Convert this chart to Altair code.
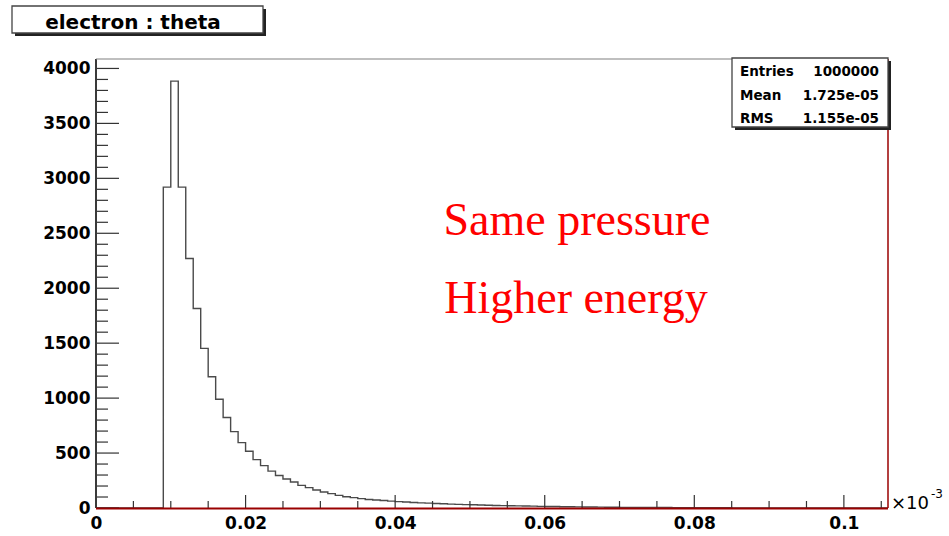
import altair as alt
import pandas as pd

# ---------------- data ----------------
bin_width = 0.001  # x in units of 1e-3
counts = [0, 0, 0, 0, 0, 0, 0, 0, 0,
          2920, 3885, 2920, 2270, 1815, 1453, 1195, 990, 823, 695,
          595, 516, 440, 386, 336, 296, 264, 237, 206, 185,
          164, 146, 131, 115, 103, 94, 85, 78, 73, 68,
          63, 58, 54, 50, 47, 44, 41, 38, 35, 33,
          31, 29, 27, 25, 23, 22, 21, 19, 18, 17,
          15, 14, 13, 12, 11, 10, 9, 9, 8, 7,
          7, 6, 6, 5, 5, 4, 4, 4, 3, 3,
          3, 2, 2, 2, 2, 2, 1, 1, 1, 1,
          1, 1, 1, 1, 0, 0, 0, 0, 0, 0,
          0, 0, 0, 0, 0, 0, 0]

x_labels = [0, 0.02, 0.04, 0.06, 0.08, 0.1]
y_labels = [0, 500, 1000, 1500, 2000, 2500, 3000, 3500, 4000]
x_ticks = [i * 0.005 for i in range(22)]
y_ticks = [i * 100 for i in range(41)]

title_text = "electron : theta"
stats_names = ["Entries", "Mean", "RMS"]
stats_values = ["1000000", "1.725e-05", "1.155e-05"]
annotation = ["Same pressure", "Higher energy"]

X_MAX = 0.1059
Y_MAX = 4086
W, H = 792, 449

edges = [i * bin_width for i in range(len(counts) + 1)]
hist_df = pd.DataFrame({"x": edges, "y": counts + [counts[-1]]})

xs = alt.Scale(domain=[0, X_MAX], nice=False, zero=False)
ys = alt.Scale(domain=[0, Y_MAX], nice=False)

one = pd.DataFrame({"d": [0]})

FONT = "DejaVu Sans"

# histogram
hist = alt.Chart(hist_df).mark_line(
    interpolate="step-after", color="#4a4a4a", strokeWidth=1.4, clip=True
).encode(
    x=alt.X("x:Q", scale=xs,
            axis=alt.Axis(values=x_labels, format="~g", title=None, grid=False,
                          ticks=False, tickSize=0, domain=False, labelFlush=False,
                          labelOverlap=False, labelFont=FONT, labelFontWeight="bold",
                          labelFontSize=17, labelColor="black", labelPadding=7)),
    y=alt.Y("y:Q", scale=ys,
            axis=alt.Axis(values=y_labels, format="d", title=None, grid=False, ticks=False,
                          tickSize=0, domain=False, labelFlush=False, labelOverlap=False,
                          labelFont=FONT, labelFontWeight="bold", labelFontSize=17,
                          labelColor="black", labelPadding=6)),
)

# inward ticks
yt_df = pd.DataFrame({"v": y_ticks, "major": [v % 500 == 0 for v in y_ticks]})
ytick_major = alt.Chart(yt_df).transform_filter("datum.major").mark_rule(
    color="#333333", strokeWidth=1.2).encode(
    y=alt.Y("v:Q", scale=ys), x=alt.value(0), x2=alt.value(23))
ytick_minor = alt.Chart(yt_df).transform_filter("!datum.major").mark_rule(
    color="#333333", strokeWidth=1.2).encode(
    y=alt.Y("v:Q", scale=ys), x=alt.value(0), x2=alt.value(12))

xt_df = pd.DataFrame({"v": x_ticks,
                      "major": [abs(round(v / 0.02) * 0.02 - v) < 1e-9 for v in x_ticks]})
xtick_major = alt.Chart(xt_df).transform_filter("datum.major").mark_rule(
    color="#333333", strokeWidth=1.2).encode(
    x=alt.X("v:Q", scale=xs), y=alt.value(H), y2=alt.value(H - 13))
xtick_minor = alt.Chart(xt_df).transform_filter("!datum.major").mark_rule(
    color="#333333", strokeWidth=1.2).encode(
    x=alt.X("v:Q", scale=xs), y=alt.value(H), y2=alt.value(H - 7))

# frame lines
left_line = alt.Chart(one).mark_rule(color="#3a3a3a", strokeWidth=2).encode(
    x=alt.value(0), y=alt.value(0), y2=alt.value(H))
top_line = alt.Chart(one).mark_rule(color="#808080", strokeWidth=1.2).encode(
    x=alt.value(0), x2=alt.value(W), y=alt.value(0))
bottom_line = alt.Chart(one).mark_rule(color="#9a0000", strokeWidth=2).encode(
    x=alt.value(0), x2=alt.value(W), y=alt.value(H + 0.5))
right_line = alt.Chart(one).mark_rule(color="#9a0000", strokeWidth=1.5).encode(
    x=alt.value(W), y=alt.value(0), y2=alt.value(H))

# title box
tb_shadow = alt.Chart(one).mark_rect(color="#222222").encode(
    x=alt.value(-81), x2=alt.value(170), y=alt.value(-50), y2=alt.value(-23))
tb = alt.Chart(one).mark_rect(fill="white", stroke="#444444", strokeWidth=1.3).encode(
    x=alt.value(-84), x2=alt.value(167), y=alt.value(-53), y2=alt.value(-26))
tb_text = alt.Chart(one).mark_text(
    text=title_text, font=FONT, fontWeight="bold", fontSize=20, color="black",
    align="center", baseline="alphabetic").encode(x=alt.value(37), y=alt.value(-30))

# stats box
sb_shadow = alt.Chart(one).mark_rect(color="#222222").encode(
    x=alt.value(639), x2=alt.value(795), y=alt.value(2), y2=alt.value(71))
sb = alt.Chart(one).mark_rect(fill="white", stroke="#444444", strokeWidth=1.3).encode(
    x=alt.value(636), x2=alt.value(792), y=alt.value(-1), y2=alt.value(68))
stat_layers = []
for i, (nm, vl) in enumerate(zip(stats_names, stats_values)):
    yy = 17 + i * 23.5
    stat_layers.append(alt.Chart(one).mark_text(
        text=nm, font=FONT, fontWeight="bold", fontSize=13.5, color="black",
        align="left", baseline="alphabetic").encode(x=alt.value(644), y=alt.value(yy)))
    stat_layers.append(alt.Chart(one).mark_text(
        text=vl, font=FONT, fontWeight="bold", fontSize=13.5, color="black",
        align="right", baseline="alphabetic").encode(x=alt.value(783), y=alt.value(yy)))

# x10^-3
mult = alt.Chart(one).mark_text(
    text="×10", font=FONT, fontSize=18, color="black", align="left",
    baseline="alphabetic").encode(x=alt.value(795), y=alt.value(450))
expo = alt.Chart(one).mark_text(
    text="-3", font=FONT, fontSize=12, color="black", align="left",
    baseline="alphabetic").encode(x=alt.value(835), y=alt.value(439))

# red annotation
ann_layers = []
for i, t in enumerate(annotation):
    ann_layers.append(alt.Chart(one).mark_text(
        text=t, font="Liberation Serif", fontSize=46, color="#ff0000",
        align="center", baseline="alphabetic").encode(x=alt.value(481 - i), y=alt.value(176 + i * 78)))

chart = alt.layer(
    hist, ytick_major, ytick_minor, xtick_major, xtick_minor,
    left_line, top_line, bottom_line, right_line,
    tb_shadow, tb, tb_text, sb_shadow, sb, *stat_layers, mult, expo, *ann_layers
).properties(
    width=W, height=H,
    autosize=alt.AutoSizeParams(type="none"),
    padding={"left": 96, "top": 59, "right": 61, "bottom": 28},
    background="white",
).configure_view(stroke=None)

chart.save("out.html", embed_options={"renderer": "svg", "actions": False})
